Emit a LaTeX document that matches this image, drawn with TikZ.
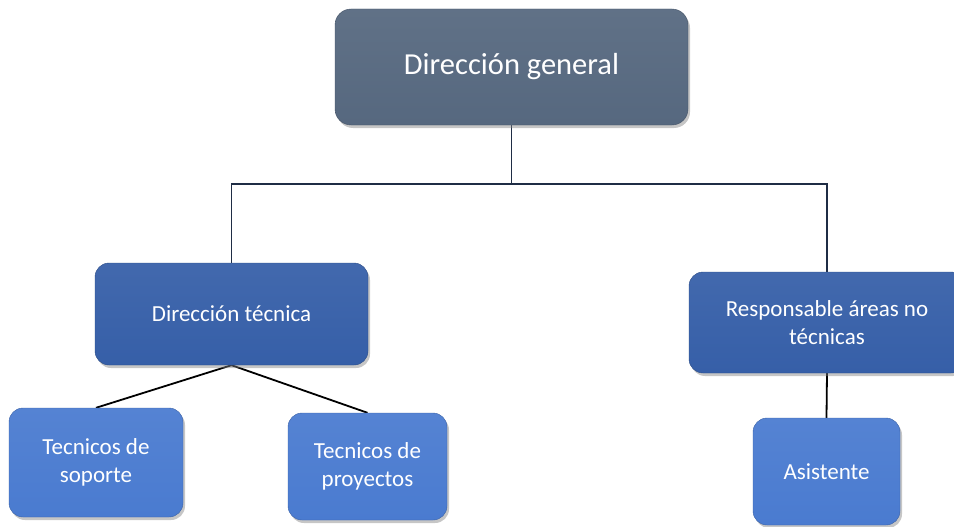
\documentclass[tikz,border=0pt]{standalone}
\usepackage{fontspec}
\setmainfont{Carlito}
\usepackage{tikz}
\usetikzlibrary{positioning, shapes, shadows, backgrounds}
\definecolor{slate}{HTML}{56687F}
\definecolor{darkblue}{HTML}{365FA8}
\definecolor{midblue}{HTML}{4A7BD0}
\definecolor{linkcol}{HTML}{1F2D45}
\tikzstyle{head} = [rectangle, rounded corners=16pt, draw=slate!80!black, top color=slate!94!white, bottom color=slate, text=white, text centered, drop shadow={shadow xshift=2pt, shadow yshift=-3pt, opacity=0.45}, font=\fontsize{30.5}{36}\selectfont]
\tikzstyle{manager} = [rectangle, rounded corners=14pt, draw=darkblue!80!black, top color=darkblue!94!white, bottom color=darkblue, text=white, align=center, drop shadow={shadow xshift=2pt, shadow yshift=-3pt, opacity=0.45}, font=\fontsize{23}{28}\selectfont]
\tikzstyle{staff} = [rectangle, rounded corners=14pt, draw=midblue!80!black, top color=midblue!94!white, bottom color=midblue, text=white, align=center, drop shadow={shadow xshift=2pt, shadow yshift=-3pt, opacity=0.45}, font=\fontsize{23}{28}\selectfont]
\tikzstyle{link} = [line width=1.4pt, draw=linkcol]
\tikzstyle{sublink} = [line width=1.8pt, draw=black]

\begin{document}
\begin{tikzpicture}[x=1pt, y=-1pt]
        \useasboundingbox (0,0) rectangle (954,527);
        \node (general) [head, minimum width=353pt, minimum height=116pt] at (511.5,67) {Dirección general};
        \node (tecnica) [manager, minimum width=273pt, minimum height=102pt] at (231.5,314) {Dirección técnica};
        \node (noTecnica) [manager, minimum width=276pt, minimum height=101pt] at (827,322.5) {Responsable áreas no\\técnicas};
        \node (soporte) [staff, minimum width=174pt, minimum height=109pt] at (96,462.5) {Tecnicos de\\soporte};
        \node (proyectos) [staff, minimum width=159pt, minimum height=107pt] at (367.5,466.5) {Tecnicos de\\proyectos};
        \node (asistente) [staff, minimum width=147pt, minimum height=107pt] at (826.5,471.5) {Asistente};
        \coordinate (bar) at (511.5,184);

        \begin{scope}[on background layer]
        \draw [link] (general.south) -- (bar);
        \draw [link] (tecnica.north) |- (bar) -| (noTecnica.north);
        \draw [sublink] (tecnica.south) -- (soporte.north);
        \draw [sublink] (tecnica.south) -- (proyectos.north);
        \draw [sublink] (noTecnica.south) -- (asistente.north);
        \end{scope}
\end{tikzpicture}
\end{document}
